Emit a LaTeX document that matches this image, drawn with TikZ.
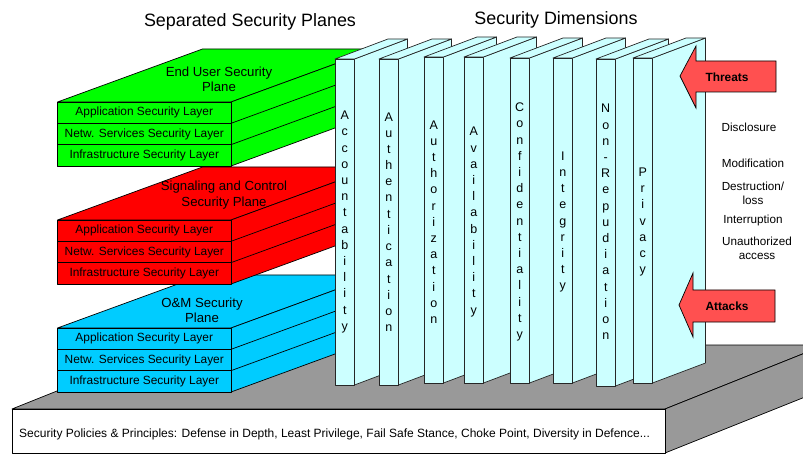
\documentclass[tikz,border=0pt]{standalone}
\usepackage{fontspec}
\setmainfont{Liberation Sans}
\definecolor{planegreen}{RGB}{0,255,0}
\definecolor{planered}{RGB}{255,0,0}
\definecolor{planeblue}{RGB}{0,204,255}
\definecolor{dimfill}{RGB}{204,255,255}
\definecolor{basegray}{RGB}{153,153,153}
\definecolor{arrowred}{RGB}{255,80,80}
\begin{document}
\begin{tikzpicture}[x=1pt,y=-1pt,
  edge/.style={draw=black,line width=0.7pt,line join=round},
  colbox/.style={fill=dimfill,draw=black!85,line width=0.7pt,line join=round},
  coltext/.style={font=\fontsize{12.5}{16.2}\selectfont,align=center,inner sep=0pt},
  layertext/.style={font=\fontsize{11.9}{13}\selectfont,inner sep=0pt},
  basetext/.style={font=\fontsize{12}{13}\selectfont,inner sep=0pt},
  planetext/.style={font=\fontsize{13.2}{15.5}\selectfont,align=center,inner sep=0pt},
  threattext/.style={font=\fontsize{11.7}{13.8}\selectfont,align=center,inner sep=0pt},
  arrowtext/.style={font=\fontsize{11.9}{13}\selectfont\bfseries,inner sep=0pt},
  titletext/.style={font=\fontsize{17.9}{20}\selectfont,inner sep=0pt},
  blockarrow/.style={fill=arrowred,draw=black,line width=0.7pt,line join=miter}]
\clip (0,0) rectangle (803,454);
\fill[white] (0,0) rectangle (803,454);

% base slab
\filldraw[edge,fill=basegray] (12,409) -- (665,409) -- (825,345) -- (172,345) -- cycle;
\filldraw[edge,fill=basegray] (665,409) -- (825,345) -- (825,389) -- (665,453) -- cycle;
\filldraw[edge,fill=white] (12,409) rectangle (665,453);
\node[basetext,anchor=west] (policies) at (19,434) {Security Policies \& Principles: Defense in Depth, Least Privilege, Fail Safe Stance, Choke Point, Diversity in Defence...};

% planes (bottom to top)
\foreach \py/\col in {328/planeblue,220/planered,102/planegreen}{
  \filldraw[edge,fill=\col] (57.5,\py) -- (231,\py) -- (376,\py-53) -- (202.5,\py-53) -- cycle;
  \filldraw[edge,fill=\col] (231,\py) -- (376,\py-53) -- (376,\py+11) -- (231,\py+64) -- cycle;
  \draw[edge] (231,\py+21.33) -- (376,\py-31.67);
  \draw[edge] (231,\py+42.67) -- (376,\py-10.33);
  \filldraw[edge,fill=\col] (57.5,\py) rectangle (231,\py+64);
  \draw[edge] (57.5,\py+21.33) -- (231,\py+21.33);
  \draw[edge] (57.5,\py+42.67) -- (231,\py+42.67);
  \node[layertext] at (144.25,\py+10.8) {Application Security Layer};
  \node[layertext] at (144.25,\py+32.1) {Netw. Services Security Layer};
  \node[layertext] at (144.25,\py+53.4) {Infrastructure Security Layer};
}
\node[planetext] (enduser) at (219,79.5) {End User Security\\Plane};
\node[planetext] (signal) at (224,195) {Signaling and Control\\Security Plane};
\node[planetext] (oam) at (202,310.5) {O\&M Security\\Plane};

% security dimension columns
\foreach \cx/\ct/\cb/\nm/\txt in {
  335/59/385/acc/{A\\c\\c\\o\\u\\n\\t\\a\\b\\i\\l\\i\\t\\y},
  379/59/385/authn/{A\\u\\t\\h\\e\\n\\t\\i\\c\\a\\t\\i\\o\\n},
  424/57/383/authz/{A\\u\\t\\h\\o\\r\\i\\z\\a\\t\\i\\o\\n},
  464/57/383/avail/{A\\v\\a\\i\\l\\a\\b\\i\\l\\i\\t\\y},
  510/58/383/conf/{C\\o\\n\\f\\i\\d\\e\\n\\t\\i\\a\\l\\i\\t\\y},
  553/58/383/integ/{I\\n\\t\\e\\g\\r\\i\\t\\y},
  596/59/386/nonrep/{N\\o\\n\\-\\R\\e\\p\\u\\d\\i\\a\\t\\i\\o\\n},
  633/58/383/priv/{P\\r\\i\\v\\a\\c\\y}}{
  \filldraw[colbox] (\cx+19.5,\ct) -- (\cx+72.5,\ct-20) -- (\cx+72.5,\cb-20) -- (\cx+19.5,\cb) -- cycle;
  \filldraw[colbox] (\cx,\ct) -- (\cx+19.5,\ct) -- (\cx+72.5,\ct-20) -- (\cx+53,\ct-20) -- cycle;
  \filldraw[colbox] (\cx,\ct) rectangle (\cx+19.5,\cb);
  \node[coltext] (c\nm) at (\cx+9.75,222) {\txt};
}

% threat and attack arrows
\filldraw[blockarrow] (680,76) -- (696,46) -- (696,61) -- (776,61) -- (776,92) -- (696,92) -- (696,108) -- cycle;
\node[arrowtext] (threats) at (727,77) {Threats};
\filldraw[blockarrow] (679,305) -- (693,273) -- (693,290) -- (775,290) -- (775,322) -- (693,322) -- (693,337) -- cycle;
\node[arrowtext] (attacks) at (727,306) {Attacks};

% threat list
\node[threattext] (disc) at (749,127) {Disclosure};
\node[threattext] (modif) at (753,163) {Modification};
\node[threattext] (destr) at (753,193) {Destruction/\\loss};
\node[threattext] (inter) at (753,220) {Interruption};
\node[threattext] (unauth) at (757,248) {Unauthorized\\access};

% titles
\node[titletext] (tplanes) at (250,22) {Separated Security Planes};
\node[titletext] (tdims) at (556,20) {Security Dimensions};
\end{tikzpicture}
\end{document}
